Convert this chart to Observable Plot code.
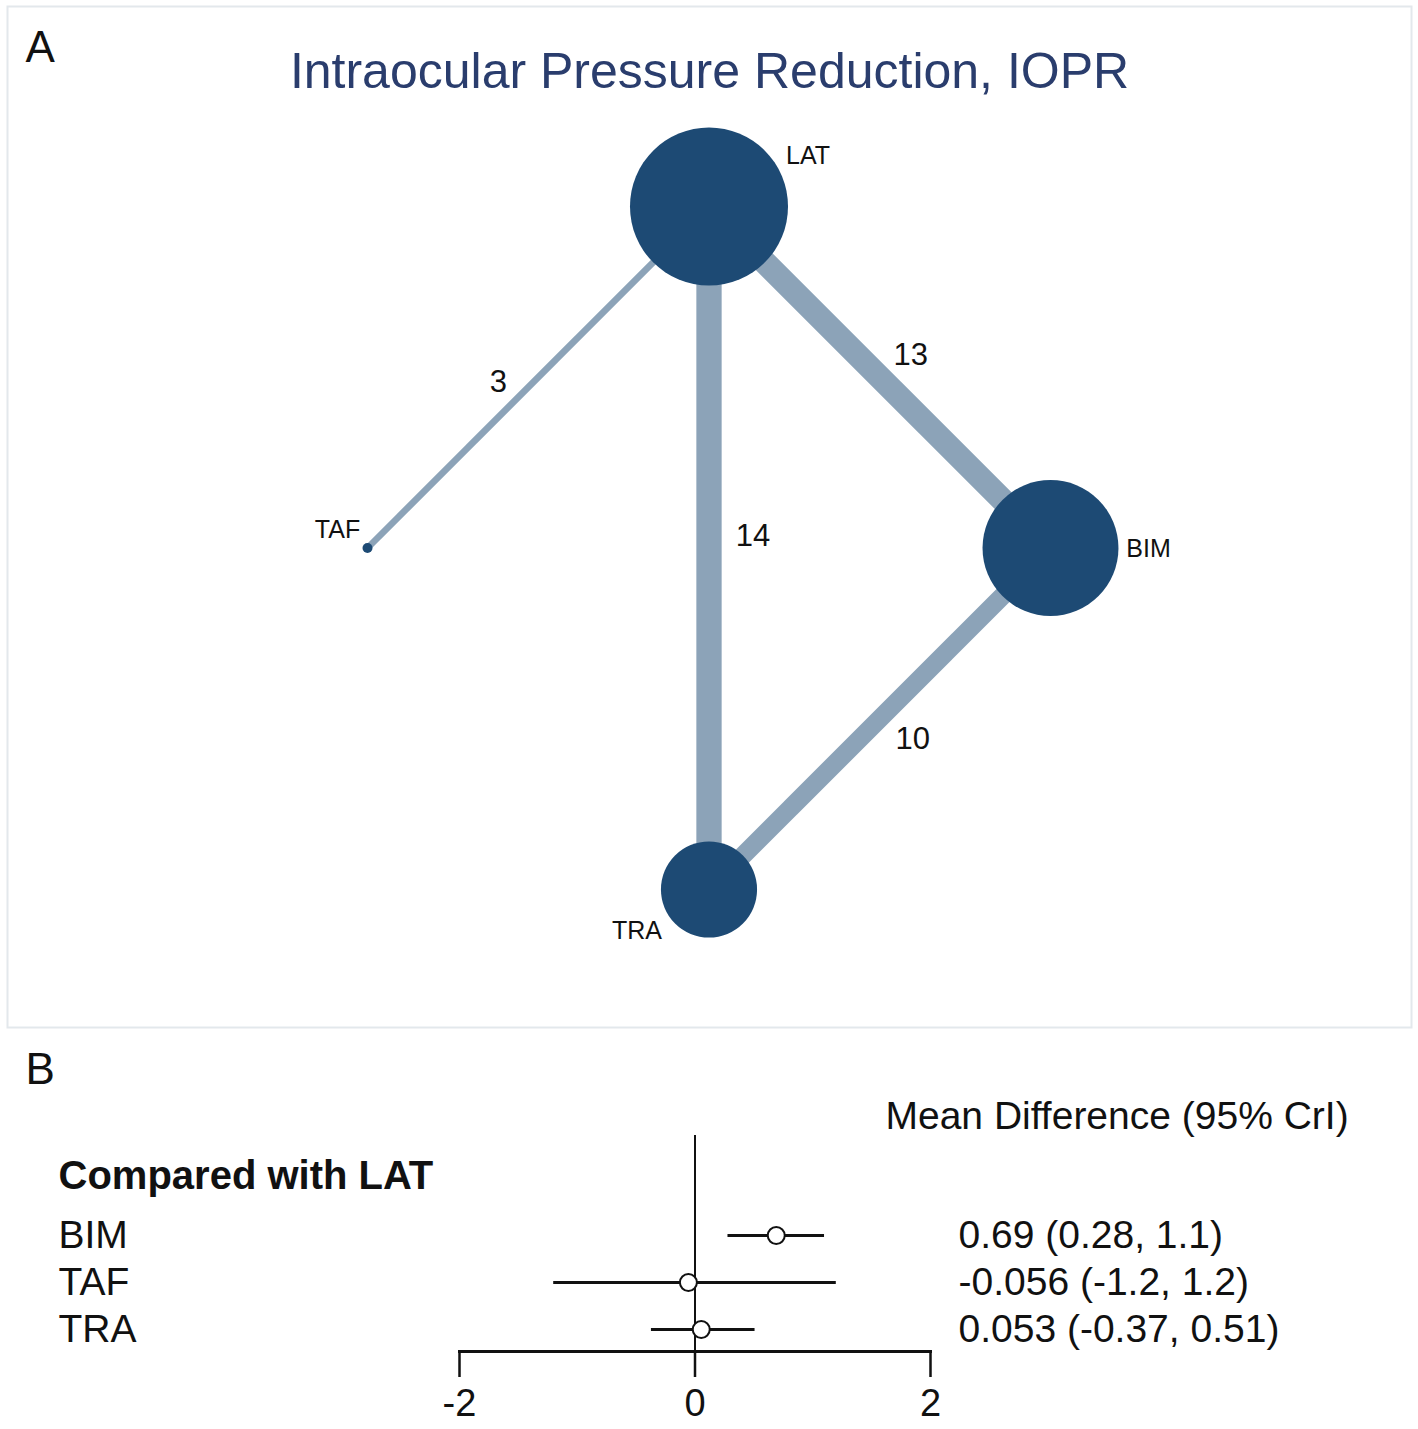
<!DOCTYPE html>
<html><head><meta charset="utf-8">
<script src="https://cdn.jsdelivr.net/npm/d3@7"></script>
<script src="https://cdn.jsdelivr.net/npm/@observablehq/plot@0.6"></script>
<style>
body{margin:0;background:#fff;font-family:"Liberation Sans",Arial,sans-serif;}
#wrap{position:relative;width:1418px;height:1429px;}
#a{position:absolute;left:0;top:0}
#b{position:absolute;left:0;top:1030px}
</style></head><body><div id="wrap"><div id="a"></div><div id="b"></div></div>
<script>
// ---- Panel A: network ----
const treatments = ["LAT", "BIM", "TAF", "TRA"];
const nodeX = [0, 1, -1, 0];
const nodeY = [1, 0, 0, -1];
const nodeWeight = [100, 74, 0.4, 37];
const edgeFrom = ["LAT", "LAT", "LAT", "BIM"];
const edgeTo = ["TAF", "TRA", "BIM", "TRA"];
const edgeStudies = [3, 14, 13, 10];
const titleA = "Intraocular Pressure Reduction, IOPR";

// ---- Panel B: forest ----
const comparators = ["BIM", "TAF", "TRA"];
const meanDiff = [0.69, -0.056, 0.053];
const lower = [0.28, -1.2, -0.37];
const upper = [1.1, 1.2, 0.51];
const xTicks = [-2, 0, 2];
const headerB = "Compared with LAT";
const effectLabel = "Mean Difference (95% CrI)";

const FONT = "Liberation Sans, Arial, Helvetica, sans-serif";

const nodes = treatments.map((t, i) => ({name: t, x: nodeX[i], y: nodeY[i], w: nodeWeight[i]}));
const byName = Object.fromEntries(nodes.map(n => [n.name, n]));
const edges = edgeFrom.map((f, i) => ({key: f + "-" + edgeTo[i], from: byName[f], to: byName[edgeTo[i]], n: edgeStudies[i]}));
const edgeWidth = n => 1.7 * n + 1.5;

const nodeLabelOffset = {LAT: [99, -51], BIM: [98, 1], TAF: [-30, -18], TRA: [-72, 41]};
const edgeLabelOffset = {"LAT-TAF": [-40, 5], "LAT-TRA": [44, -12], "LAT-BIM": [31, -22], "BIM-TRA": [33, 20]};

const plotA = Plot.plot({
  width: 1418, height: 1030, margin: 0,
  x: {domain: [-1, 1], range: [367, 1050], axis: null},
  y: {domain: [-1, 1], range: [889, 206], axis: null},
  r: {type: "sqrt", domain: [0, 100], range: [0, 79]},
  style: {fontFamily: FONT, color: "#111", background: "transparent"},
  marks: [
    Plot.frame({insetLeft: 7, insetRight: 7, insetTop: 6, insetBottom: 3, stroke: "#e3e8ec", strokeWidth: 2}),
    Plot.text(["A"], {frameAnchor: "top-left", dx: 25, dy: 61, lineAnchor: "bottom", textAnchor: "start", fontSize: 44}),
    Plot.text([titleA], {frameAnchor: "top", dy: 87, lineAnchor: "bottom", fontSize: 50, fill: "#2a3d6d"}),
    Plot.link(edges, {
      x1: d => d.from.x, y1: d => d.from.y, x2: d => d.to.x, y2: d => d.to.y,
      stroke: "#8ca3b8", strokeWidth: d => edgeWidth(d.n)
    }),
    Plot.dot(nodes, {x: "x", y: "y", r: "w", fill: "#1d4a74", stroke: "none"}),
    ...nodes.map(n => Plot.text([n], {
      x: "x", y: "y", text: "name", fontSize: 25,
      dx: nodeLabelOffset[n.name][0], dy: nodeLabelOffset[n.name][1]
    })),
    ...edges.map(e => Plot.text([e], {
      x: d => (d.from.x + d.to.x) / 2, y: d => (d.from.y + d.to.y) / 2,
      text: d => String(d.n), fontSize: 31,
      dx: edgeLabelOffset[e.key][0], dy: edgeLabelOffset[e.key][1]
    }))
  ]
});
document.getElementById("a").appendChild(plotA);

const rows = comparators.map((c, i) => ({name: c, md: meanDiff[i], lo: lower[i], hi: upper[i]}));

const plotB = Plot.plot({
  width: 1418, height: 399,
  marginLeft: 459, marginRight: 488, marginTop: 105, marginBottom: 78,
  x: {domain: [-2, 2]},
  y: {type: "point", domain: comparators, range: [204, 299], padding: 0, axis: null},
  style: {fontFamily: FONT, color: "#111", background: "transparent"},
  marks: [
    Plot.ruleX([0], {stroke: "#111", strokeWidth: 2, insetBottom: -26}),
    Plot.frame({anchor: "bottom", stroke: "#111", strokeWidth: 3}),
    Plot.axisX({ticks: xTicks, tickSize: 26, tickPadding: 12, fontSize: 38, tickFormat: d => String(d), strokeWidth: 2.5, label: null}),
    Plot.ruleY(rows, {y: "name", x1: "lo", x2: "hi", stroke: "#111", strokeWidth: 3}),
    Plot.dot(rows, {x: "md", y: "name", r: 8.5, fill: "white", stroke: "#111", strokeWidth: 2}),
    Plot.text(rows, {y: "name", text: "name", frameAnchor: "left", dx: -401, textAnchor: "start", fontSize: 39}),
    Plot.text(rows, {y: "name", text: d => `${d.md} (${d.lo}, ${d.hi})`, frameAnchor: "right", dx: 28, textAnchor: "start", fontSize: 39}),
    Plot.text([headerB], {frameAnchor: "top-left", dx: -401, dy: 53, lineAnchor: "bottom", textAnchor: "start", fontSize: 40, fontWeight: "bold"}),
    Plot.text([effectLabel], {frameAnchor: "top-right", dx: -45, dy: -7, lineAnchor: "bottom", textAnchor: "start", fontSize: 39}),
    Plot.text(["B"], {frameAnchor: "top-left", dx: -434, dy: -52, lineAnchor: "bottom", textAnchor: "start", fontSize: 44})
  ]
});
document.getElementById("b").appendChild(plotB);
</script></body></html>
